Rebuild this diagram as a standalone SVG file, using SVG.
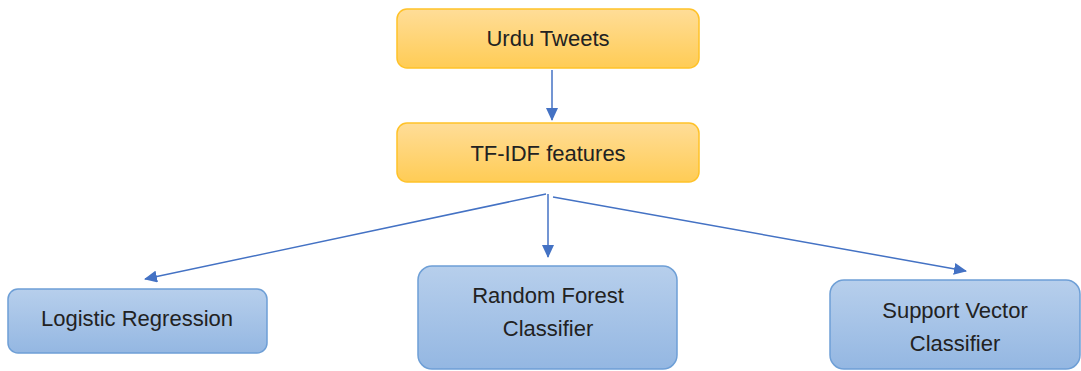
<svg xmlns="http://www.w3.org/2000/svg" width="1081" height="371" viewBox="0 0 1081 371">
<defs>
<linearGradient id="gOr" x1="0" y1="0" x2="0" y2="1">
<stop offset="0" stop-color="#FFDD98"/><stop offset="1" stop-color="#FFCC55"/>
</linearGradient>
<linearGradient id="gBl" x1="0" y1="0" x2="0" y2="1">
<stop offset="0" stop-color="#B7CFEC"/><stop offset="1" stop-color="#94B7E2"/>
</linearGradient>
<marker id="ah" markerWidth="13" markerHeight="12" refX="12" refY="6" orient="auto" markerUnits="userSpaceOnUse" viewBox="0 0 13 12">
<path d="M0,0 L13,6 L0,12 z" fill="#4472C4"/>
</marker>
<style>
.or{fill:url(#gOr);stroke:#FFC229;stroke-width:1.5}
.bl{fill:url(#gBl);stroke:#6E9FD6;stroke-width:1.5}
.t{font-family:"Liberation Sans",Arial,sans-serif;font-size:22px;fill:#222;text-anchor:middle}
.c{stroke:#4472C4;stroke-width:1.5;fill:none;marker-end:url(#ah)}
</style>
</defs>
<g id="connectors">
<line class="c" x1="552" y1="70" x2="552" y2="120"/>
<line class="c" x1="546" y1="194" x2="145" y2="279"/>
<line class="c" x1="548" y1="194" x2="548" y2="257"/>
<line class="c" x1="553" y1="197" x2="966" y2="271"/>
</g>
<g id="urdu-tweets">
<rect class="or" x="397" y="9" width="302" height="59" rx="10"/>
<text class="t" x="548" y="46">Urdu Tweets</text>
</g>
<g id="tfidf">
<rect class="or" x="397" y="123" width="302" height="59" rx="10"/>
<text class="t" x="548" y="161">TF-IDF features</text>
</g>
<g id="logistic-regression">
<rect class="bl" x="8" y="289" width="259" height="64" rx="10"/>
<text class="t" x="137" y="326">Logistic Regression</text>
</g>
<g id="random-forest">
<rect class="bl" x="418" y="266" width="259" height="103" rx="14"/>
<text class="t" x="548" y="303">Random Forest</text>
<text class="t" x="548" y="336">Classifier</text>
</g>
<g id="svc">
<rect class="bl" x="830" y="280" width="250" height="89" rx="14"/>
<text class="t" x="955" y="318">Support Vector</text>
<text class="t" x="955" y="351">Classifier</text>
</g>
</svg>
